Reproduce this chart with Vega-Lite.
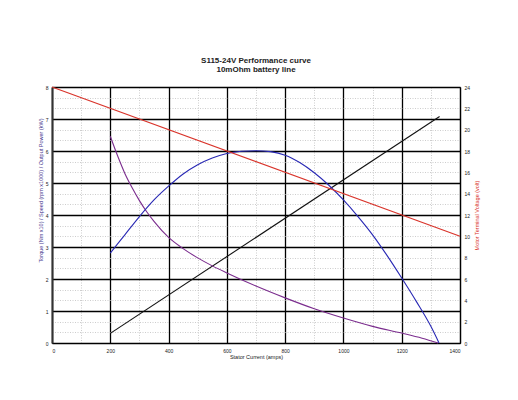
{
  "$schema": "https://vega.github.io/schema/vega-lite/v6.json",
  "width": 408,
  "height": 256,
  "autosize": {"type": "none"},
  "padding": {"left": 52, "top": 87, "right": 58, "bottom": 57},
  "background": "white",
  "title": {
    "text": ["S115-24V Performance  curve", "10mOhm battery line"],
    "font": "Liberation Sans",
    "fontSize": 8,
    "fontWeight": "bold",
    "lineHeight": 9,
    "anchor": "middle",
    "offset": 11,
    "color": "#222222"
  },
  "config": {
    "view": {"stroke": null},
    "axis": {
      "labelFont": "Liberation Sans",
      "titleFont": "Liberation Sans",
      "labelFontSize": 5,
      "titleFontSize": 5.5,
      "titleFontWeight": "normal",
      "labelColor": "#222222"
    }
  },
  "data": {
    "values": [
      {"series": "Voltage", "current": 0, "value": 24},
      {"series": "Voltage", "current": 1400, "value": 10},
      {"series": "Torque", "current": 200, "value": 0.3},
      {"series": "Torque", "current": 1330, "value": 7.08},
      {"series": "Speed", "current": 200, "value": 6.46},
      {"series": "Speed", "current": 225, "value": 5.85},
      {"series": "Speed", "current": 250, "value": 5.3},
      {"series": "Speed", "current": 275, "value": 4.85},
      {"series": "Speed", "current": 300, "value": 4.45},
      {"series": "Speed", "current": 325, "value": 4.1},
      {"series": "Speed", "current": 350, "value": 3.8},
      {"series": "Speed", "current": 400, "value": 3.3},
      {"series": "Speed", "current": 450, "value": 2.95},
      {"series": "Speed", "current": 500, "value": 2.66},
      {"series": "Speed", "current": 550, "value": 2.41},
      {"series": "Speed", "current": 600, "value": 2.19},
      {"series": "Speed", "current": 700, "value": 1.78},
      {"series": "Speed", "current": 800, "value": 1.41},
      {"series": "Speed", "current": 900, "value": 1.07},
      {"series": "Speed", "current": 1000, "value": 0.78},
      {"series": "Speed", "current": 1100, "value": 0.52},
      {"series": "Speed", "current": 1200, "value": 0.31},
      {"series": "Speed", "current": 1270, "value": 0.15},
      {"series": "Speed", "current": 1325, "value": 0},
      {"series": "Power", "current": 200, "value": 2.81},
      {"series": "Power", "current": 250, "value": 3.38},
      {"series": "Power", "current": 300, "value": 3.95},
      {"series": "Power", "current": 350, "value": 4.47},
      {"series": "Power", "current": 400, "value": 4.9},
      {"series": "Power", "current": 450, "value": 5.28},
      {"series": "Power", "current": 500, "value": 5.57},
      {"series": "Power", "current": 550, "value": 5.78},
      {"series": "Power", "current": 600, "value": 5.92},
      {"series": "Power", "current": 650, "value": 5.99},
      {"series": "Power", "current": 700, "value": 6.01},
      {"series": "Power", "current": 750, "value": 5.98},
      {"series": "Power", "current": 800, "value": 5.87},
      {"series": "Power", "current": 850, "value": 5.64},
      {"series": "Power", "current": 900, "value": 5.32},
      {"series": "Power", "current": 950, "value": 4.93},
      {"series": "Power", "current": 1000, "value": 4.47},
      {"series": "Power", "current": 1050, "value": 3.95},
      {"series": "Power", "current": 1100, "value": 3.38},
      {"series": "Power", "current": 1150, "value": 2.73},
      {"series": "Power", "current": 1200, "value": 2.03},
      {"series": "Power", "current": 1250, "value": 1.3},
      {"series": "Power", "current": 1300, "value": 0.52},
      {"series": "Power", "current": 1328, "value": 0}
    ]
  },
  "encoding": {
    "x": {
      "field": "current",
      "type": "quantitative",
      "scale": {"domain": [0, 1400], "nice": false, "zero": false},
      "axis": {
        "title": "Stator Current (amps)",
        "titleColor": "#222222",
        "titlePadding": 1,
        "values": [0, 100, 200, 300, 400, 500, 600, 700, 800, 900, 1000, 1100, 1200, 1300, 1400],
        "labelExpr": "datum.value % 200 === 0 ? format(datum.value, 'd') : ''",
        "labelPadding": 5,
        "tickSize": 0,
        "domainColor": "#000000",
        "domainWidth": 1.2,
        "grid": true,
        "gridColor": {"condition": {"test": "datum.value % 200 === 0", "value": "#000000"}, "value": "#b8b8b8"},
        "gridDash": {"condition": {"test": "datum.value % 200 === 0", "value": []}, "value": [1, 1.5]},
        "gridWidth": {"condition": {"test": "datum.value % 200 === 0", "value": 1.3}, "value": 0.7}
      }
    }
  },
  "layer": [
    {
      "transform": [{"filter": "datum.series !== 'Voltage'"}],
      "mark": {"type": "line", "strokeWidth": 1.1, "interpolate": "monotone"},
      "encoding": {
        "y": {
          "field": "value",
          "type": "quantitative",
          "scale": {"domain": [0, 8], "nice": false},
          "axis": {
            "orient": "left",
            "title": "Torque (Nm x10) / Speed (rpm x1000) / Output Power (kW)",
            "titleColor": "#4a3a90",
            "titleX": -9,
            "titleY": 103,
            "values": [0, 0.3333, 0.6667, 1, 1.3333, 1.6667, 2, 2.3333, 2.6667, 3, 3.3333, 3.6667, 4, 4.3333, 4.6667, 5, 5.3333, 5.6667, 6, 6.3333, 6.6667, 7, 7.3333, 7.6667, 8],
            "labelExpr": "abs(datum.value - round(datum.value)) < 0.01 ? format(round(datum.value), 'd') : ''",
            "labelPadding": 4,
            "tickSize": 0,
            "domainColor": "#333333",
            "domainWidth": 2,
            "grid": true,
            "gridColor": {"condition": {"test": "abs(datum.value - round(datum.value)) < 0.01", "value": "#000000"}, "value": "#b8b8b8"},
            "gridDash": {"condition": {"test": "abs(datum.value - round(datum.value)) < 0.01", "value": []}, "value": [1, 1.5]},
            "gridWidth": {"condition": {"test": "abs(datum.value - round(datum.value)) < 0.01", "value": 1.3}, "value": 0.7}
          }
        },
        "color": {
          "field": "series",
          "type": "nominal",
          "scale": {"domain": ["Torque", "Speed", "Power"], "range": ["#111111", "#7b2d8e", "#2828b4"]},
          "legend": null
        }
      }
    },
    {
      "transform": [{"filter": "datum.series === 'Voltage'"}],
      "mark": {"type": "line", "strokeWidth": 1.1, "color": "#d9342b"},
      "encoding": {
        "y": {
          "field": "value",
          "type": "quantitative",
          "scale": {"domain": [0, 24], "nice": false},
          "axis": {
            "orient": "right",
            "title": "Motor Terminal Voltage (volt)",
            "titleColor": "#d9342b",
            "titleAngle": 270,
            "titlePadding": 10,
            "values": [0, 2, 4, 6, 8, 10, 12, 14, 16, 18, 20, 22, 24],
            "labelPadding": 4,
            "tickSize": 0,
            "domainColor": "#000000",
            "domainWidth": 1.2,
            "grid": false
          }
        }
      }
    }
  ],
  "resolve": {"scale": {"y": "independent"}}
}
